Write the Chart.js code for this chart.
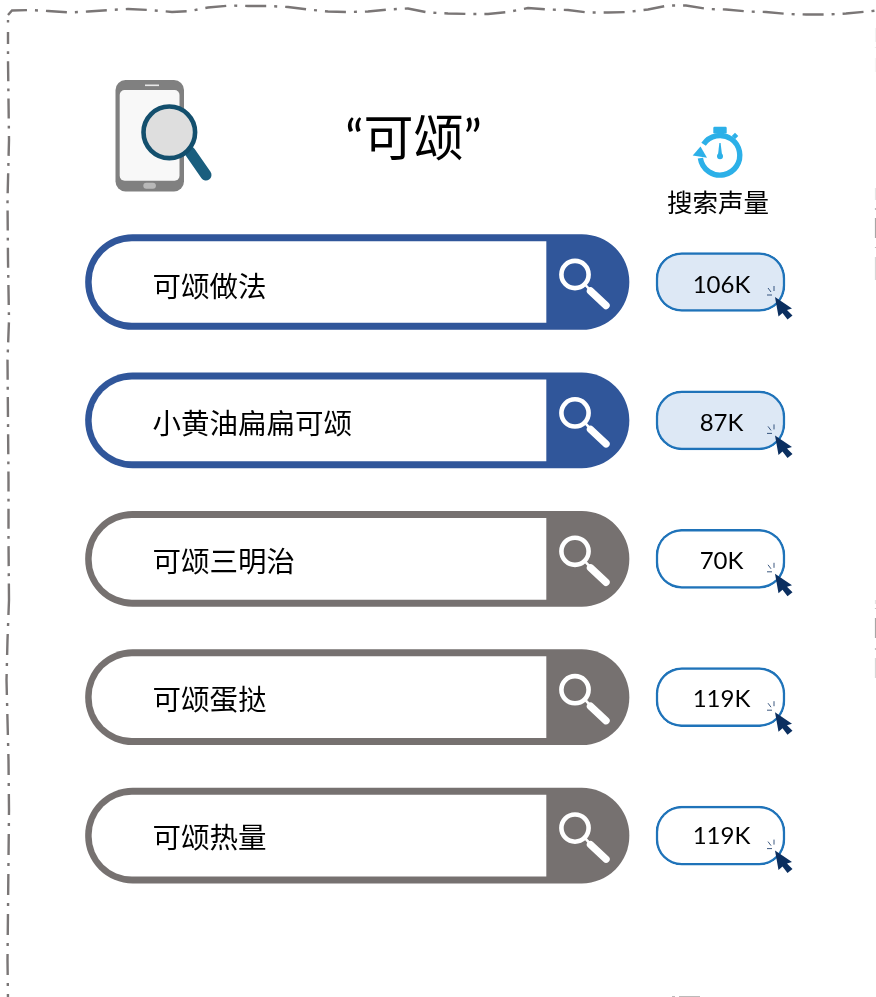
<!DOCTYPE html>
<html>
<head>
<meta charset="utf-8">
<title>可颂</title>
<style>
  html, body { margin: 0; padding: 0; background: #fff; }
  canvas { display: block; }
</style>
<script src="https://cdn.jsdelivr.net/npm/chart.js@4"></script>
</head>
<body>
<canvas id="grafico" width="876" height="997"></canvas>
<script>
// dados
var titulo = '“可颂”';
var tituloVolume = '搜索声量';
var categorias = ['可颂做法', '小黄油扁扁可颂', '可颂三明治', '可颂蛋挞', '可颂热量'];
var volumeBusca = [106, 87, 70, 119, 119];
var destaque = [true, true, false, false, false];

// cores
var AZUL = '#30569a', CINZA = '#767170', LINHA = '#7a7676';
var PILL_BORDA = '#1f73b9', PILL_FUNDO = '#dde8f5', CURSOR = '#0b2f60';
var FONTE_CJK = '"Noto Sans CJK SC", sans-serif';
var FONTE_NUM = 'Lato, "Noto Sans", sans-serif';

// extensao das caixas no eixo x (0..876)
function faixa(a, b) { return categorias.map(function () { return [a, b]; }); }

function caminho(ctx, pts) {
  ctx.beginPath();
  pts.forEach(function (p, i) { i ? ctx.lineTo(p[0], p[1]) : ctx.moveTo(p[0], p[1]); });
}

// moldura tracejada
var topo = [[8,15],[12,10.5],[30,10],[48,11],[70,12.5],[88,11.5],[110,10],[128,9],[150,10],[172,12],[190,11],[208,7.5],[230,5.5],[248,6],[268,6],[288,7],[308,9.5],[328,11.5],[348,12],[368,11.5],[388,9.5],[408,8.5],[428,12.5],[448,13.5],[469,14],[488,14],[508,12],[528,8],[548,9.5],[568,10],[588,12.5],[608,12.5],[628,12],[648,9.5],[668,5.5],[686,5.5],[708,9],[726,9.5],[748,11.5],[766,12],[788,14],[806,14.5],[828,14.5],[846,13.5],[868,11.5],[880,10]];
var esquerda1 = [[8,20],[8,32],[8,60],[8.5,100],[9,140],[7.5,200],[8,260],[9,320],[7.5,360],[8,420],[8.5,480],[8.5,540],[9,600]];
var esquerda2 = [[9,600],[7.5,640],[6.5,680],[7.5,720],[8.5,760],[9,810],[8.5,860],[8,910],[7.5,960],[8,1000]];

function moldura(ctx) {
  ctx.save();
  ctx.strokeStyle = LINHA;
  ctx.lineWidth = 2.4;
  ctx.setLineDash([21, 8, 3, 8]);
  caminho(ctx, topo); ctx.stroke();
  ctx.setLineDash([2.5, 10.5, 20, 7.4, 2.5, 7.4]);
  caminho(ctx, esquerda1.slice(0, 2)); ctx.stroke();
  ctx.setLineDash([20, 7.2, 2.8, 7.3]);
  ctx.lineDashOffset = 8;
  caminho(ctx, esquerda1.slice(1)); ctx.stroke();
  ctx.setLineDash([21, 8, 3, 8]);
  ctx.lineDashOffset = 6;
  caminho(ctx, esquerda2); ctx.stroke();
  // borda direita, quase toda fora da imagem
  ctx.setLineDash([]);
  ctx.lineWidth = 1.2;
  [[28,42,.1],[47,48,.15],[58,72,.08],[188,200,.2],[208,210,.5],[218,238,.65],[247,248,.5],[257,280,.3],[600,604,.2],[608,609,.45],[618,638,.65],[648,650,.45],[658,678,.3]].forEach(function (s) {
    ctx.globalAlpha = s[2];
    ctx.beginPath(); ctx.moveTo(875.5, s[0]); ctx.lineTo(875.5, s[1]); ctx.stroke();
  });
  // borda inferior
  ctx.globalAlpha = .5;
  ctx.beginPath(); ctx.moveTo(672, 996.5); ctx.lineTo(675, 996.5); ctx.moveTo(679, 996.5); ctx.lineTo(700, 996.5); ctx.stroke();
  ctx.restore();
}

function lupaBotao(ctx, yc) {
  ctx.save();
  ctx.strokeStyle = '#fff';
  ctx.lineCap = 'round';
  ctx.lineWidth = 4.6;
  ctx.beginPath(); ctx.arc(575, yc - 7.5, 13.6, 0, Math.PI * 2); ctx.stroke();
  ctx.lineWidth = 2.6;
  ctx.beginPath(); ctx.moveTo(585, yc + 2.5); ctx.lineTo(590, yc + 8); ctx.stroke();
  ctx.lineWidth = 7.4;
  ctx.beginPath(); ctx.moveTo(590.5, yc + 9); ctx.lineTo(606, yc + 23.5); ctx.stroke();
  ctx.restore();
}

function cursorMao(ctx, x, y) {
  ctx.save();
  ctx.translate(x, y);
  ctx.fillStyle = CURSOR;
  caminho(ctx, [[0,0],[17,11.5],[12,13],[17.5,18.5],[12.5,22.5],[7.5,16],[3.5,19.5]]);
  ctx.closePath(); ctx.fill();
  ctx.strokeStyle = CURSOR;
  ctx.lineWidth = .8;
  [[-7,-9,-4,-5],[-1,-11,-1,-6],[-8,-2,-3,-2]].forEach(function (l) {
    ctx.beginPath(); ctx.moveTo(l[0], l[1]); ctx.lineTo(l[2], l[3]); ctx.stroke();
  });
  ctx.restore();
}

function celular(ctx) {
  ctx.save();
  ctx.fillStyle = '#808080';
  ctx.beginPath(); ctx.roundRect(115.5, 80, 68.5, 111.5, 10); ctx.fill();
  ctx.fillStyle = '#f8f8f8';
  ctx.beginPath(); ctx.roundRect(119.7, 90, 59.8, 90.7, 5); ctx.fill();
  ctx.fillStyle = '#e8e8e8';
  ctx.fillRect(145, 84.5, 14, 1.6);
  ctx.fillStyle = '#b8b8b8';
  ctx.beginPath(); ctx.roundRect(143.3, 182.7, 12.6, 6, 3); ctx.fill();
  // lupa
  ctx.strokeStyle = '#1a5e7e';
  ctx.lineWidth = 11;
  ctx.lineCap = 'round';
  ctx.beginPath(); ctx.moveTo(190, 152); ctx.lineTo(206, 175); ctx.stroke();
  ctx.beginPath(); ctx.arc(169.3, 132.3, 25.8, 0, Math.PI * 2);
  ctx.fillStyle = '#dedede'; ctx.fill();
  ctx.strokeStyle = '#134f6d';
  ctx.lineWidth = 4.6;
  ctx.stroke();
  ctx.restore();
}

function cronometro(ctx) {
  var cx = 720, cy = 155.3, az = '#2cb0e8';
  ctx.save();
  ctx.strokeStyle = az;
  ctx.fillStyle = az;
  ctx.lineWidth = 5.4;
  ctx.beginPath();
  ctx.arc(cx, cy, 19.8, 214 * Math.PI / 180, (360 + 172) * Math.PI / 180);
  ctx.stroke();
  caminho(ctx, [[692.7,155.5],[700.5,146.5],[707,157.8]]);
  ctx.closePath(); ctx.fill();
  ctx.beginPath(); ctx.roundRect(713.3, 126.7, 13.4, 6.8, 1.2); ctx.fill();
  ctx.save();
  ctx.translate(735, 136); ctx.rotate(Math.PI / 4);
  ctx.fillRect(-2.3, -2.3, 4.6, 4.6);
  ctx.restore();
  caminho(ctx, [[719.4,143],[720.6,143],[722.2,156],[717.8,156]]);
  ctx.closePath(); ctx.fill();
  ctx.beginPath(); ctx.arc(720, 156.3, 3, 0, Math.PI * 2); ctx.fill();
  ctx.restore();
}

var decoracao = {
  id: 'decoracao',
  beforeDatasetsDraw: function (chart) {
    moldura(chart.ctx);
  },
  afterDatasetsDraw: function (chart) {
    var ctx = chart.ctx, y = chart.scales.y;
    celular(ctx);
    cronometro(ctx);

    ctx.save();
    ctx.fillStyle = '#000';
    ctx.textBaseline = 'middle';
    ctx.textAlign = 'center';
    ctx.font = '50px Lato, ' + FONTE_CJK;
    ctx.fillText(titulo, 413.5, 140);
    ctx.font = '25.5px ' + FONTE_CJK;
    ctx.fillText(tituloVolume, 718, 202);

    categorias.forEach(function (nome, i) {
      var yc = y.getPixelForValue(i);
      // o texto sobe um pouco a cada linha em relacao a caixa
      var ajuste = 3.8 - 0.65 * i;
      ctx.textAlign = 'left';
      ctx.font = '28.5px ' + FONTE_CJK;
      ctx.fillText(nome, 152.5, yc + ajuste);
      ctx.textAlign = 'center';
      ctx.font = '24px ' + FONTE_NUM;
      ctx.fillText(volumeBusca[i] + 'K', 721.5, yc + ajuste - 0.2);
      lupaBotao(ctx, yc);
      cursorMao(ctx, 775, yc + 15);
    });
    ctx.restore();
  }
};

var ctx = document.querySelector('#grafico').getContext('2d');
var grafico = new Chart(ctx, {
  type: 'bar',
  data: {
    labels: categorias,
    datasets: [
      {
        // miolo branco da caixa de busca
        data: faixa(92, 546),
        backgroundColor: '#fff',
        borderWidth: 0,
        borderRadius: { topLeft: 40, bottomLeft: 40, topRight: 0, bottomRight: 0 },
        borderSkipped: false,
        barThickness: 81,
        grouped: false
      },
      {
        // caixa de busca
        data: faixa(85.5, 629),
        backgroundColor: destaque.map(function (d) { return d ? AZUL : CINZA; }),
        borderWidth: 0,
        borderRadius: 47.5,
        borderSkipped: false,
        barThickness: 95,
        grouped: false
      },
      {
        // pilula do volume de busca
        label: tituloVolume,
        data: faixa(656, 785),
        backgroundColor: destaque.map(function (d) { return d ? PILL_FUNDO : '#fff'; }),
        borderColor: PILL_BORDA,
        borderWidth: 2.5,
        borderRadius: 26,
        borderSkipped: false,
        barThickness: 59,
        grouped: false
      }
    ]
  },
  options: {
    indexAxis: 'y',
    responsive: false,
    animation: false,
    layout: { padding: { top: 212.8, bottom: 92.2, left: 0, right: 0 } },
    plugins: { legend: { display: false }, tooltip: { enabled: false } },
    scales: {
      x: { type: 'linear', min: 0, max: 876, display: false },
      y: { type: 'category', display: false }
    }
  },
  plugins: [decoracao]
});
</script>
</body>
</html>
